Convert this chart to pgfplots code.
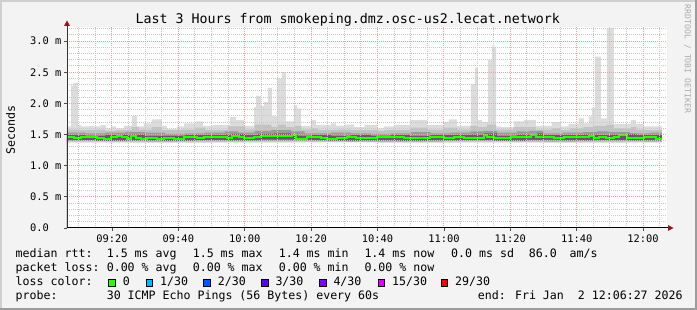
\documentclass[border=0pt]{standalone}
\usepackage{fontspec}
\setmainfont{DejaVu Sans Mono}
\usepackage{pgfplots}
\pgfplotsset{compat=1.18}
\definecolor{bgc}{HTML}{F3F3F3}
\definecolor{bordlight}{HTML}{CFCFCF}
\definecolor{borddark}{HTML}{9C9C9C}
\definecolor{mgrid}{RGB}{240,160,160}
\definecolor{ngrid}{RGB}{200,200,200}
\definecolor{arrowc}{RGB}{139,26,26}
\definecolor{wmgray}{HTML}{ABABAB}
\definecolor{s1}{HTML}{DCDCDC}
\definecolor{s2}{HTML}{C2C2C2}
\definecolor{s3}{HTML}{9A9A9A}
\definecolor{s4}{HTML}{606060}
\definecolor{l0}{HTML}{26FF00}
\definecolor{l1}{HTML}{00B8FF}
\definecolor{l2}{HTML}{0059FF}
\definecolor{l3}{HTML}{5E00FF}
\definecolor{l4}{HTML}{7E00FF}
\definecolor{l15}{HTML}{DD00FF}
\definecolor{l29}{HTML}{FF0000}
\newcommand{\lf}{\fontsize{11.6}{13}\selectfont}
\newcommand{\tf}{\fontsize{10.4}{12}\selectfont}
\begin{document}
\begin{tikzpicture}[x=1pt,y=1pt]
\useasboundingbox (0,0) rectangle (697,310);
\fill[bgc] (0,0) rectangle (697,310);
\fill[bordlight] (0,0) rectangle (2,310);
\fill[bordlight] (0,308) rectangle (697,310);
\fill[borddark] (695,0) rectangle (697,310);
\fill[borddark] (0,0) rectangle (697,2);
\begin{axis}[at={(67pt,82pt)}, anchor=south west, width=600pt, height=201pt, scale only axis,
  xmin=6.45, xmax=187.2, ymin=0, ymax=3.226,
  axis background/.style={fill=white},
  axis line style={draw=none},
  axis on top,
  xtick={20,40,60,80,100,120,140,160,180},
  xticklabels={09:20,09:40,10:00,10:20,10:40,11:00,11:20,11:40,12:00},
  minor xtick={10,15,25,30,35,45,50,55,65,70,75,85,90,95,105,110,115,125,130,135,145,150,155,165,170,175,185},
  ytick={0,0.5,1,1.5,2,2.5,3},
  yticklabels={0.0,0.5 m,1.0 m,1.5 m,2.0 m,2.5 m,3.0 m},
  minor ytick={0.1,0.2,0.3,0.4,0.6,0.7,0.8,0.9,1.1,1.2,1.3,1.4,1.6,1.7,1.8,1.9,2.1,2.2,2.3,2.4,2.6,2.7,2.8,2.9,3.1,3.2},
  grid=both,
  major grid style={draw=mgrid, dash pattern=on 1pt off 1pt, line width=1pt},
  minor grid style={draw=ngrid, dash pattern=on 1pt off 1pt, line width=1pt},
  tick pos=left, tick align=outside, major tick length=3pt, minor tick length=0pt,
  tick style={black!70, line width=0.8pt},
  xticklabel style={font=\tf, anchor=center, inner sep=0pt, yshift=-7.5pt},
  yticklabel style={font=\tf, anchor=west, inner sep=0pt, xshift=-34pt},
]
% max (lightest smoke)
\addplot[const plot, fill=s1, draw=none] coordinates {
(6.45,1.63) (7.65,2.29) (8.56,2.33) (9.76,1.65) (10.67,1.63) (13.08,1.64) (14.58,1.63) (16.69,1.65) (18.2,1.60) (19.7,1.63) (21.2,1.60) (23.6,1.64) (26.0,1.80) (27.5,1.63) (29.6,1.68) (32.05,1.745) (35.06,1.64) (36.57,1.59) (39.58,1.63) (41.7,1.68) (45.3,1.71) (47.4,1.64) (50.4,1.65) (55.5,1.78) (57.35,1.73) (59.76,1.64) (62.8,1.94) (63.4,2.12) (64.9,1.96) (65.8,2.02) (67.0,2.25) (68.2,1.80) (69.7,2.40) (71.2,2.50) (72.4,1.71) (74.8,1.97) (75.7,1.92) (76.9,1.64) (79.9,1.73) (81.4,1.65) (86.0,1.68) (87.5,1.64) (90,1.66) (93,1.62) (96,1.65) (99.8,1.60) (101.9,1.63) (105,1.65) (109.8,1.73) (114.9,1.65) (120.0,1.70) (121.5,1.745) (123.9,1.64) (128.1,2.31) (129.3,2.57) (130.2,1.73) (131.4,1.70) (133.3,2.70) (134.5,2.91) (135.7,1.63) (137.2,1.62) (141.1,1.71) (144.1,1.73) (147.7,1.64) (152.5,1.70) (155.2,1.63) (157.6,1.67) (160.6,1.76) (162.2,1.68) (163.7,1.79) (164.6,1.93) (165.5,2.75) (167.3,1.76) (169.1,3.21) (171.2,1.67) (176.3,1.73) (177.8,1.67) (180.2,1.63) (185.67,1.63)
} \closedcycle;
\addplot[const plot, fill=s2, draw=none] coordinates {
(6.45,1.58) (10,1.57) (15,1.58) (18,1.56) (21,1.57) (26,1.62) (28,1.58) (32,1.62) (35,1.57) (41,1.58) (45,1.61) (48,1.57) (55,1.63) (60,1.58) (63,1.66) (68,1.62) (70,1.66) (72.4,1.62) (75,1.64) (77,1.58) (80,1.60) (82,1.57) (88,1.58) (92,1.57) (99.8,1.56) (102,1.57) (110,1.61) (115,1.58) (120,1.61) (124,1.58) (128,1.64) (130.2,1.62) (133,1.66) (135.7,1.58) (141,1.62) (147.7,1.58) (152.5,1.60) (155.2,1.57) (158,1.60) (162,1.62) (165,1.64) (169,1.66) (171.2,1.60) (176.3,1.62) (178,1.58) (180.2,1.57) (185.67,1.57)
} \closedcycle;
\addplot[const plot, fill=s3, draw=none] coordinates {
(6.45,1.53) (12,1.52) (18,1.53) (24,1.54) (30,1.53) (36,1.51) (42,1.52) (48,1.53) (54,1.55) (58,1.53) (63,1.56) (68,1.57) (74,1.55) (78,1.52) (86,1.53) (92,1.52) (98,1.51) (104,1.52) (110,1.54) (116,1.52) (122,1.53) (128,1.55) (132,1.56) (136,1.53) (142,1.55) (146,1.56) (150,1.52) (156,1.53) (162,1.54) (166,1.55) (170,1.54) (176,1.52) (182,1.53) (185.67,1.53)
} \closedcycle;
\addplot[const plot, fill=s4, draw=none] coordinates {
(6.45,1.49) (12,1.48) (18,1.49) (22,1.50) (26,1.50) (30,1.48) (36,1.48) (42,1.49) (48,1.49) (54,1.50) (56,1.51) (60,1.49) (64,1.51) (69,1.52) (74,1.52) (76,1.48) (80,1.49) (86,1.48) (92,1.49) (98,1.48) (104,1.49) (110,1.48) (116,1.49) (122,1.49) (128,1.50) (132,1.52) (136,1.48) (142,1.50) (146,1.52) (150,1.49) (156,1.49) (162,1.50) (166,1.49) (170,1.50) (174,1.51) (178,1.49) (182,1.49) (185.67,1.49)
} \closedcycle;
% lower side of the smoke
\addplot[const plot, fill=s3, draw=none] coordinates {
(6.45,1.41) (15,1.40) (25,1.405) (35,1.40) (45,1.41) (55,1.405) (65,1.42) (75,1.41) (85,1.40) (95,1.405) (105,1.40) (115,1.405) (125,1.41) (135,1.40) (145,1.415) (155,1.405) (165,1.41) (175,1.405) (185.67,1.405)
} \closedcycle;
\addplot[const plot, fill=s2, draw=none] coordinates {
(6.45,1.395) (20,1.39) (40,1.395) (60,1.40) (80,1.39) (100,1.39) (120,1.395) (140,1.39) (160,1.395) (180,1.39) (185.67,1.39)
} \closedcycle;
\addplot[const plot, fill=s1, draw=none] coordinates {
(6.45,1.385) (30,1.38) (60,1.385) (90,1.38) (120,1.385) (150,1.38) (185.67,1.38)
} \closedcycle;
\addplot[const plot, fill=white, draw=none] coordinates {
(6.45,1.37) (25,1.365) (50,1.37) (75,1.375) (100,1.365) (125,1.37) (150,1.365) (175,1.37) (185.67,1.37)
} \closedcycle;
% median rtt
\addplot[const plot, draw=l0, line width=2.2pt] coordinates {
(6.45,1.455) (8.56,1.445) (10.67,1.466) (12.47,1.455) (15.49,1.445) (17.59,1.43) (19.70,1.455) (21.51,1.477) (23.02,1.455) (24.52,1.434) (25.73,1.477) (27.23,1.445) (28.74,1.423) (30.55,1.445) (33.56,1.434) (35.67,1.445) (38.68,1.434) (41.69,1.455) (45.61,1.44) (47.72,1.466) (50.73,1.455) (54.64,1.44) (56.15,1.48) (58.26,1.455) (59.76,1.44) (62.78,1.455) (64.88,1.477) (68.80,1.48) (74.22,1.50) (75.43,1.434) (78.74,1.455) (80.85,1.466) (82.96,1.445) (84.76,1.434) (87.78,1.45) (90.79,1.466) (93.50,1.445) (95.91,1.44) (99.82,1.455) (101.93,1.466) (105.85,1.455) (107.96,1.44) (111.87,1.445) (115.79,1.455) (120.00,1.44) (123.02,1.455) (126.03,1.442) (132.05,1.49) (132.96,1.455) (135.06,1.44) (140.18,1.46) (146.21,1.50) (147.72,1.455) (150.12,1.466) (153.14,1.445) (156.15,1.455) (160.06,1.466) (163.68,1.48) (165.18,1.445) (166.69,1.455) (168.80,1.445) (171.21,1.455) (172.72,1.49) (175.12,1.445) (180.25,1.455) (181.75,1.466) (183.86,1.43) (185.67,1.43)
};
\end{axis}
% axes and arrows
\draw[black!80, line width=1pt] (67,82) -- (67,284);
\draw[black, line width=1pt] (66.5,82) -- (668,82);
\fill[arrowc] (64,284) -- (70,284) -- (67,289.5) -- cycle;
\fill[arrowc] (668,79) -- (668,85) -- (673.5,82) -- cycle;
% title, labels, watermark
\node[anchor=base, inner sep=0pt, font=\fontsize{13.3}{15}\selectfont] at (347.8,286) {Last 3 Hours from smokeping.dmz.osc-us2.lecat.network};
\node[rotate=90, inner sep=0pt, font=\lf] at (10.5,180) {Seconds};
\node[rotate=-90, inner sep=0pt, font=\fontsize{8.2}{9}\selectfont, text=wmgray] at (687.5,251) {RRDTOOL / TOBI OETIKER};
% legend
\begin{scope}[every node/.style={anchor=base west, inner sep=0pt, font=\lf}]
\node at (15.5,52) {median rtt:};
\node at (106.6,52) {1.5 ms avg};
\node at (192.6,52) {1.5 ms max};
\node at (278.6,52) {1.4 ms min};
\node at (364.3,52) {1.4 ms now};
\node at (451,52) {0.0 ms sd};
\node at (528.6,52) {86.0};
\node at (569.5,52) {am/s};
\node at (15.5,38) {packet loss:};
\node at (106.6,38) {0.00 \% avg};
\node at (192.6,38) {0.00 \% max};
\node at (278.6,38) {0.00 \% min};
\node at (364.3,38) {0.00 \% now};
\node at (15.5,24) {loss color:};
\node at (122.6,24) {0};
\node at (160,24) {1/30};
\node at (217.6,24) {2/30};
\node at (275.3,24) {3/30};
\node at (333.3,24) {4/30};
\node at (392,24) {15/30};
\node at (455,24) {29/30};
\node at (15.5,10) {probe:};
\node at (106.6,10) {30 ICMP Echo Pings (56 Bytes) every 60s};
\node at (477.6,10) {end: Fri Jan\ \ 2 12:06:27 2026};
\end{scope}
\foreach \bx/\bc in {108.3/l0,145.7/l1,203.3/l2,261/l3,319/l4,377.7/l15,440.7/l29}{
  \filldraw[fill=\bc, draw=black, line width=1pt] (\bx+0.5,23.8) rectangle (\bx+7,30.5);
}
\end{tikzpicture}
\end{document}
